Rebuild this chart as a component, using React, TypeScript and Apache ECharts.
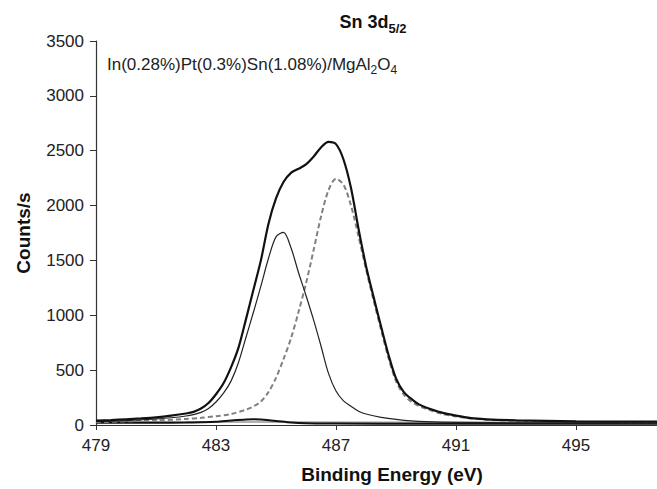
import React, { useEffect, useRef } from "react";
import * as echarts from "echarts";

// Binding energy (eV) / counts per second
const envelopeX = [479.0, 479.5, 480.0, 480.5, 481.0, 481.5, 482.0, 482.25, 482.5, 482.75, 483.0, 483.25, 483.5, 483.75, 484.0, 484.25, 484.5, 484.75, 485.0, 485.25, 485.5, 485.75, 486.0, 486.25, 486.5, 486.75, 487.0, 487.25, 487.5, 487.75, 488.0, 488.25, 488.5, 488.75, 489.0, 489.25, 489.5, 489.75, 490.0, 490.5, 491.0, 491.5, 492.0, 493.0, 494.0, 495.0, 496.0, 497.7];
const envelopeY = [40, 45, 52, 60, 70, 85, 105, 120, 150, 200, 280, 380, 525, 705, 965, 1235, 1505, 1835, 2065, 2215, 2298, 2335, 2375, 2445, 2530, 2580, 2560, 2420, 2160, 1790, 1450, 1170, 900, 640, 425, 305, 240, 190, 160, 115, 85, 62, 52, 42, 37, 33, 31, 30];

const peak1X = [479.0, 479.5, 480.0, 480.5, 481.0, 481.5, 482.0, 482.25, 482.5, 482.75, 483.0, 483.25, 483.5, 483.75, 484.0, 484.25, 484.5, 484.75, 485.0, 485.25, 485.5, 485.75, 486.0, 486.25, 486.5, 486.75, 487.0, 487.25, 487.5, 487.75, 488.0, 488.5, 489.0, 489.5, 490.0, 491.0, 493.0, 497.7];
const peak1Y = [30, 35, 40, 47, 55, 66, 82, 95, 115, 150, 210, 290, 400, 570, 800, 1030, 1270, 1520, 1715, 1755, 1615, 1390, 1180, 960, 720, 470, 310, 220, 170, 125, 100, 70, 52, 38, 30, 24, 20, 18];

const peak2X = [479.0, 480.0, 481.0, 482.0, 482.5, 483.0, 483.5, 484.0, 484.25, 484.5, 484.75, 485.0, 485.25, 485.5, 485.75, 486.0, 486.25, 486.5, 486.75, 487.0, 487.25, 487.5, 487.75, 488.0, 488.25, 488.5, 488.75, 489.0, 489.25, 489.5, 489.75, 490.0, 490.5, 491.0, 491.5, 492.0, 493.0, 495.0, 497.7];
const peak2Y = [25, 33, 42, 55, 65, 80, 100, 140, 170, 215, 300, 430, 600, 790, 1030, 1290, 1590, 1900, 2140, 2245, 2190, 2000, 1720, 1420, 1140, 870, 610, 400, 280, 215, 175, 148, 105, 78, 60, 50, 38, 29, 25];

const peak3X = [479.0, 481.0, 482.0, 482.5, 483.0, 483.5, 484.0, 484.25, 484.5, 485.0, 485.5, 486.0, 487.0, 490.0, 497.7];
const peak3Y = [20, 21, 22, 25, 30, 41, 51, 53, 50, 37, 22, 15, 13, 12, 12];

const backgroundX = [479.0, 485.0, 490.0, 497.7];
const backgroundY = [30, 27, 25, 24];

const xTicks = [479, 483, 487, 491, 495];
const yTicks = [0, 500, 1000, 1500, 2000, 2500, 3000, 3500];

const zip = (xs: number[], ys: number[]) => xs.map((x, i) => [x, ys[i]]);

const FONT = "'Liberation Sans', Arial, sans-serif";

export default function App() {
  const ref = useRef<HTMLDivElement>(null);
  useEffect(() => {
    if (!ref.current) return;
    const chart = echarts.init(ref.current, null, { renderer: "svg" });
    const axisCommon = {
      min: 479,
      max: 497.7,
    };
    const lineSeries = (name: string, xs: number[], ys: number[], lineStyle: any) => ({
      type: "line",
      name,
      data: zip(xs, ys),
      showSymbol: false,
      smooth: 0.3,
      lineStyle,
    });
    chart.setOption({
      animation: false,
      backgroundColor: "#fff",
      textStyle: { fontFamily: FONT },
      title: [
        {
          text: "{m|Sn 3d}{s|5/2}",
          left: 373,
          top: 9,
          textAlign: "center",
          padding: 0,
          textStyle: {
            rich: {
              m: { fontSize: 18, fontWeight: "bold", fontFamily: FONT, color: "#111", lineHeight: 26 },
              s: { fontSize: 13, fontWeight: "bold", fontFamily: FONT, color: "#111", lineHeight: 13, verticalAlign: "bottom" },
            },
          },
        },
        {
          text: "{m|In(0.28%)Pt(0.3%)Sn(1.08%)/MgAl}{s|2}{m|O}{s|4}",
          left: 107,
          top: 52,
          padding: 0,
          textStyle: {
            fontWeight: "normal",
            rich: {
              m: { fontSize: 17, fontWeight: "normal", fontFamily: FONT, color: "#222", lineHeight: 24 },
              s: { fontSize: 12, fontWeight: "normal", fontFamily: FONT, color: "#222", lineHeight: 12, verticalAlign: "bottom" },
            },
          },
        },
      ],
      grid: { left: 96, right: 0, top: 41, bottom: 64 },
      xAxis: [
        {
          type: "value",
          ...axisCommon,
          axisLine: { show: true, onZero: false, lineStyle: { color: "#333", width: 1.2 } },
          axisTick: { show: true, length: 5, customValues: xTicks, lineStyle: { color: "#333" } },
          axisLabel: { customValues: xTicks, fontSize: 17, color: "#222", margin: 12, fontFamily: FONT, formatter: (v: number) => String(v) },
          splitLine: { show: false },
        },
        {
          type: "value",
          position: "top",
          ...axisCommon,
          axisLine: { show: true, lineStyle: { color: "#333", width: 1.2 } },
          axisTick: { show: false },
          axisLabel: { show: false },
          splitLine: { show: false },
        },
      ],
      yAxis: {
        type: "value",
        min: 0,
        max: 3500,
        interval: 500,
        axisLine: { show: true, lineStyle: { color: "#333", width: 1.2 } },
        axisTick: { show: true, length: 6, lineStyle: { color: "#333" } },
        axisLabel: { fontSize: 17, color: "#222", margin: 12, fontFamily: FONT, customValues: yTicks, formatter: (v: number) => String(v) },
        splitLine: { show: false },
      },
      graphic: [
        {
          type: "text",
          x: 392,
          y: 474,
          style: {
            text: "Binding Energy (eV)",
            font: `bold 19px ${FONT}`,
            fill: "#111",
            align: "center",
            verticalAlign: "middle",
            textAlign: "center",
            textVerticalAlign: "middle",
          },
        },
        {
          type: "text",
          x: 23,
          y: 233,
          rotation: Math.PI / 2,
          style: {
            text: "Counts/s",
            font: `bold 19px ${FONT}`,
            fill: "#111",
            align: "center",
            verticalAlign: "middle",
            textAlign: "center",
            textVerticalAlign: "middle",
          },
        },
      ],
      series: [
        lineSeries("background", backgroundX, backgroundY, { color: "#999", width: 1.5 }),
        lineSeries("peak3", peak3X, peak3Y, { color: "#111", width: 2 }),
        lineSeries("peak2", peak2X, peak2Y, { color: "#808080", width: 2, type: [5, 3] }),
        lineSeries("peak1", peak1X, peak1Y, { color: "#222", width: 1.2 }),
        lineSeries("envelope", envelopeX, envelopeY, { color: "#111", width: 2.2 }),
      ],
    });
    return () => chart.dispose();
  }, []);
  return <div ref={ref} style={{ width: 657, height: 489, position: "absolute", left: 0, top: 0 }} />;
}
